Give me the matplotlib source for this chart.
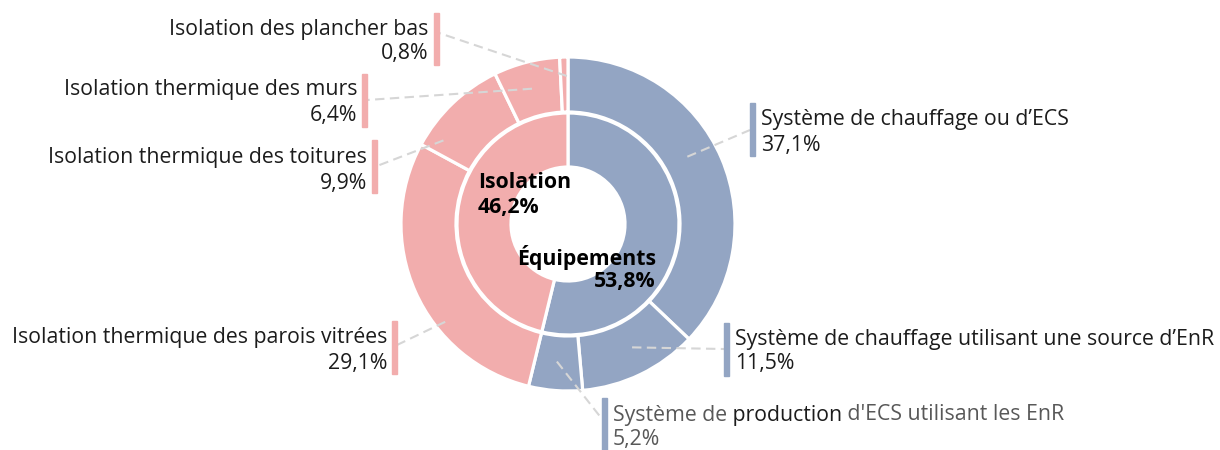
import matplotlib
matplotlib.use("Agg")
import matplotlib.pyplot as plt
from matplotlib.patches import Rectangle
import numpy as np

# ---------------- data ----------------
inner_labels = ["Équipements", "Isolation"]
inner_values = [53.8, 46.2]

outer_labels = [
    "Système de chauffage ou d’ECS",
    "Système de chauffage utilisant une source d’EnR",
    "Système de production d'ECS utilisant les EnR",
    "Isolation thermique des parois vitrées",
    "Isolation thermique des toitures",
    "Isolation thermique des murs",
    "Isolation des plancher bas",
]
outer_values = [37.1, 11.5, 5.2, 29.1, 9.9, 6.4, 0.8]
outer_group = [0, 0, 0, 1, 1, 1, 1]

# ---------------- style ----------------
BLUE = "#93a5c3"
PINK = "#f2adad"
TXT = "#1c1c1c"
GREY_TXT = "#585858"
LEADER = "#d6d6d6"
group_colors = [BLUE, PINK]
FONT = "Open Sans"
FS = 15.3
DY = 2  # text baseline nudge (px)

CX, CY = 568, 224
R_OUT, W_OUT = 167, 55
R_IN, W_IN = 111, 54

# label layout (pixel coordinates, top-left origin)
# side, bar_x, bar_top, bar_bottom, text_x, line1_y, line2_y, connector_y
label_layout = [
    ("R", 750, 103, 156, 761, 117, 143, 130),
    ("R", 724, 323, 376, 735, 337, 362, 349),
    ("R", 602, 398, 452, 613, 413, 437, 419),
    ("L", 397, 321, 374, 387, 336, 361, 345),
    ("L", 377, 140, 193, 367, 155, 181, 166),
    ("L", 367, 74, 127, 357, 88, 114, 100),
    ("L", 439, 13, 65, 428, 27, 52, 33),
]
# leader anchor on wedge: angle offset from wedge middle (deg), radius
anchor_shift = [-6.2, -1.7, 0.3, -14.6, -12.4, -0.5, 1.0]
anchor_r = [137, 139, 138, 157, 150, 140, 148]
BAR_W = 5


def pct(v):
    return f"{v:.1f}".replace(".", ",") + "%"


fig = plt.figure(figsize=(12.2, 4.5), dpi=100)
ax = fig.add_axes([0, 0, 1, 1])

# y axis inverted: startangle -90 = top, counterclock True = clockwise on screen
ax.pie(outer_values, radius=R_OUT, center=(CX, CY), startangle=-90, counterclock=True,
       colors=[group_colors[g] for g in outer_group],
       wedgeprops=dict(width=W_OUT, edgecolor="white", linewidth=2.3), frame=True)
ax.pie(inner_values, radius=R_IN, center=(CX, CY), startangle=-90, counterclock=True,
       colors=group_colors,
       wedgeprops=dict(width=W_IN, edgecolor="white", linewidth=2.3), frame=True)
ax.set_xlim(0, 1220)
ax.set_ylim(450, 0)
ax.set_aspect("equal")
ax.axis("off")

# leaders, bars, labels
cum = np.cumsum([0] + outer_values)
for i, (lab, val) in enumerate(zip(outer_labels, outer_values)):
    side, bx, bt, bb, tx, y1, y2, cy_ = label_layout[i]
    y1 += DY
    y2 += DY
    col = group_colors[outer_group[i]]
    mid = (cum[i] + val / 2) / 100 * 360 + anchor_shift[i]
    px = CX + anchor_r[i] * np.sin(np.radians(mid))
    py = CY - anchor_r[i] * np.cos(np.radians(mid))
    ax.plot([px, bx], [py, cy_], color=LEADER, lw=1.5, ls=(0, (4.5, 2.6)), zorder=3,
            dash_capstyle="butt")
    if side == "R":
        ax.add_patch(Rectangle((bx, bt), BAR_W, bb - bt, color=col, zorder=4, clip_on=False))
    else:
        ax.add_patch(Rectangle((bx - BAR_W, bt), BAR_W, bb - bt, color=col, zorder=4, clip_on=False))

    if i == 2:
        parts = [("Système de", GREY_TXT), (" production", TXT), (" d'ECS utilisant les EnR", GREY_TXT)]
        t = ax.text(tx, y1, parts[0][0], color=parts[0][1], fontsize=FS, family=FONT,
                    ha="left", va="center")
        for s, c in parts[1:]:
            t = ax.annotate(s, xy=(1, 0), xycoords=t, va="bottom", ha="left",
                            color=c, fontsize=FS, family=FONT)
        ax.text(tx, y2, pct(val), color=GREY_TXT, fontsize=FS, family=FONT,
                ha="left", va="center")
    else:
        ha = "left" if side == "R" else "right"
        ax.text(tx, y1, lab, color=TXT, fontsize=FS, family=FONT, ha=ha, va="center")
        ax.text(tx, y2, pct(val), color=TXT, fontsize=FS, family=FONT, ha=ha, va="center")

# centre labels
ax.text(478, 180 + DY, inner_labels[1], fontsize=FS, family=FONT, weight="bold",
        color="black", ha="left", va="center")
ax.text(478, 205 + DY, pct(inner_values[1]), fontsize=FS, family=FONT, weight="bold",
        color="black", ha="left", va="center")
ax.text(656, 255 + DY, inner_labels[0], fontsize=FS, family=FONT, weight="bold",
        color="black", ha="right", va="center")
ax.text(656, 280 + DY, pct(inner_values[0]), fontsize=FS, family=FONT, weight="bold",
        color="black", ha="right", va="center")

fig.savefig("out.png", dpi=100, facecolor="white")
